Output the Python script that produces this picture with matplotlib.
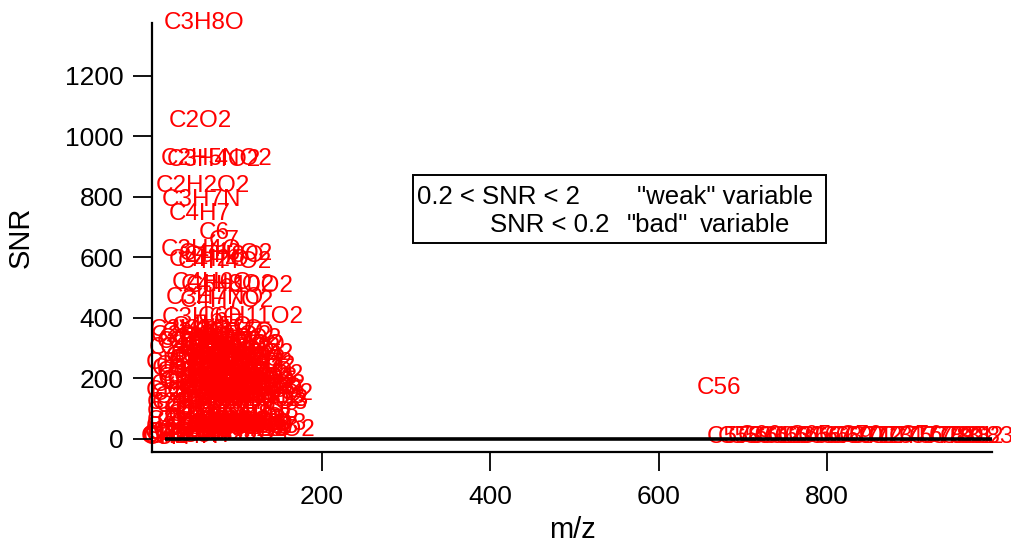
import matplotlib
matplotlib.use("Agg")
import matplotlib.pyplot as plt
from matplotlib.patches import Rectangle

plt.rcParams["font.family"] = ["Liberation Sans", "DejaVu Sans"]

# ── data: formula label, nominal m/z, SNR ──
labels_top = ["C3H8O", "C2O2", "C2H5NO2", "C3H4O2", "C2H2O2", "C3H7N", "C4H7",
              "C6", "C7", "C3H4O", "C4H6O2", "C5H8O", "C4H4O2", "C4H2O",
              "C4H6O", "C4H8O2", "C5H10O2", "C3H7NO", "C4H7O2", "C3H6O", "C6H11O2"]
mz_top = [60, 56, 75, 72, 58, 57, 55,
          72, 84, 56, 86, 84, 84, 66,
          70, 88, 102, 73, 87, 58, 115]
snr_top = [1375, 1051, 925, 922, 835, 790, 745,
           680, 655, 625, 612, 605, 585, 592,
           515, 510, 505, 465, 455, 400, 402]

labels_mid = ["CH3", "CH4", "C2H2", "C2H3", "C2H4", "CHO", "C2H5", "CH2O", "CH3O",
              "CH4O", "C3H2", "C3H3", "C3H4", "C3H5", "C2HO", "C2H2O", "C3H6",
              "C2H3O", "C3H7", "CO2", "C2H4O", "CHO2", "C2H5O", "CH2O2", "C2H6O",
              "C4H2", "C4H3", "C4H4", "C4H5", "C3H2O", "C4H6", "C3H3O", "C4H8",
              "C3H5O", "C4H9", "C2H3O2", "C3H7O", "C2H4O2", "C5H3", "C5H4", "C5H5",
              "C5H6", "C4H3O", "C5H7", "C5H8", "C4H5O", "C5H9", "C3H3O2", "C4H7O",
              "C4H8O", "C3H5O2", "C4H9O", "C3H6O2", "C6H5", "C6H6", "C5H3O", "C6H7",
              "C5H4O", "C5H5O", "C6H9", "C5H6O", "C4H3O2", "C5H7O", "C6H11",
              "C4H5O2", "C5H9O", "C5H10O", "C3H5O3", "C7H7", "C7H8", "C6H5O",
              "C7H9", "C6H6O", "C5H3O2", "C6H7O", "C7H11", "C5H4O2", "C5H5O2",
              "C6H9O", "C5H6O2", "C5H7O2", "C6H11O", "C5H8O2", "C4H5O3", "C5H9O2",
              "C8H7", "C7H5O", "C8H9", "C7H6O", "C7H7O", "C8H11", "C6H5O2", "C7H9O",
              "C6H6O2", "C6H7O2", "C7H11O", "C6H8O2", "C6H9O2", "C5H5O3",
              "C6H10O2", "C5H7O3", "C9H7", "C8H7O", "C9H11", "C8H9O", "C7H5O2",
              "C7H7O2", "C8H11O", "C7H9O2", "C6H5O3", "C7H11O2", "C6H7O3",
              "C10H8", "C6H9O3"]
mz_mid = [15, 16, 26, 27, 28, 29, 29, 30, 31,
          32, 38, 39, 40, 41, 41, 42, 42,
          43, 43, 44, 44, 45, 45, 46, 46,
          50, 51, 52, 53, 54, 54, 55, 56,
          57, 57, 59, 59, 60, 63, 64, 65,
          66, 67, 67, 68, 69, 69, 71, 71,
          72, 73, 73, 74, 77, 78, 79, 79,
          80, 81, 81, 82, 83, 83, 83,
          85, 85, 86, 89, 91, 92, 93,
          93, 94, 95, 95, 95, 96, 97,
          97, 98, 99, 99, 100, 101, 101,
          103, 105, 105, 106, 107, 107, 109, 109,
          110, 111, 111, 112, 113, 113,
          114, 115, 115, 119, 119, 121, 121,
          123, 123, 125, 125, 127, 127,
          128, 129]
snr_mid = [10, 4, 20, 40, 120, 180, 60, 250, 160,
           90, 15, 110, 60, 220, 140, 300, 210,
           360, 330, 270, 340, 200, 150, 230, 120,
           60, 110, 160, 230, 190, 80, 300, 250,
           350, 280, 240, 190, 320, 90, 50, 170,
           130, 260, 200, 220, 370, 300, 200, 330,
           270, 320, 180, 260, 250, 210, 150, 270,
           120, 290, 240, 170, 270, 360, 190,
           340, 280, 200, 140, 320, 150, 270,
           200, 160, 300, 350, 220, 180, 330,
           290, 240, 310, 200, 230, 180, 260,
           150, 280, 210, 170, 260, 190, 250, 310,
           200, 280, 220, 190, 240, 170,
           130, 200, 120, 170, 140, 190, 160,
           210, 170, 180, 140, 150, 120,
           90, 130]

labels_low = ["C", "CH", "CH2", "CO", "C2H6", "CH3O2", "C4H", "C3HO", "C5H2",
              "C3H2O2", "C4H4O", "C5H", "C6H2", "C6H3", "C6H4", "C5H2O", "C4H2O2",
              "C7H3", "C7H5", "C7H6", "C4H6O3", "C8H6", "C8H8", "C4H7O3", "C3H6O4",
              "C7H4O", "C6H4O2", "C8H12", "C6H3O2", "C9H8", "C9H9", "C8H5O",
              "C5H9O3", "C9H10", "C8H6O", "C6H6O3", "C10H7", "C7H12O2"]
mz_low = [12, 13, 14, 28, 30, 47, 49, 53, 62,
          70, 68, 61, 74, 75, 76, 78, 82,
          87, 89, 90, 102, 102, 104, 103, 106,
          104, 108, 108, 107, 116, 117, 117,
          117, 118, 118, 126, 127, 128]
snr_low = [2, 5, 8, 30, 20, 25, 8, 40, 20,
           35, 50, 10, 15, 35, 60, 45, 55,
           20, 70, 45, 60, 40, 80, 30, 20,
           50, 70, 50, 40, 60, 70, 50,
           40, 30, 45, 50, 40, 30]

labels_high = ["C56", "C57", "C58", "C59", "C60", "C61", "C62", "C63", "C64", "C65",
               "C66", "C67", "C68", "C69", "C70", "C71", "C72", "C73", "C74",
               "C75", "C76", "C77", "C78", "C79", "C80", "C81", "C82", "C83"]
mz_high = [672, 684, 696, 708, 720, 732, 744, 756, 768, 780,
           792, 804, 816, 828, 840, 852, 864, 876, 888,
           900, 912, 924, 936, 948, 960, 972, 984, 996]
snr_high = [170, 5, 8, 6, 9, 7, 5, 8, 6, 9,
            7, 6, 8, 5, 9, 7, 6, 8, 7,
            5, 9, 6, 8, 7, 5, 8, 6, 7]

labels = labels_top + labels_mid + labels_low + labels_high
mz = mz_top + mz_mid + mz_low + mz_high
snr = snr_top + snr_mid + snr_low + snr_high

# ── figure ──
fig = plt.figure(figsize=(10.12, 5.42), dpi=100)
ax = fig.add_axes([152 / 1012, 1 - 452 / 542, 840 / 1012, 429 / 542])

for lab, x, y in zip(labels, mz, snr):
    ax.text(x, y, lab, color="#ff0000", fontsize=17.5, ha="center", va="center",
            clip_on=False, zorder=1)

# zero trace across the mass range
ax.plot([min(mz) + 1, max(mz)], [0, 0], color="black", linewidth=2.6, zorder=4,
        solid_capstyle="butt")

ax.set_xlim(-2, 996)
ax.set_ylim(-43, 1375)
ax.set_xticks([200, 400, 600, 800])
ax.set_yticks([0, 200, 400, 600, 800, 1000, 1200])
ax.tick_params(direction="out", length=13.5, width=1.3, labelsize=19, pad=7,
               color="black")
ax.tick_params(axis="x", pad=10)
for side in ("top", "right"):
    ax.spines[side].set_visible(False)
for side in ("left", "bottom"):
    ax.spines[side].set_linewidth(1.6)
    ax.spines[side].set_zorder(5)

ax.set_xlabel("m/z", fontsize=21, labelpad=5)
ax.set_ylabel("SNR", fontsize=21, labelpad=22)

# legend-like annotation box
ax.add_patch(Rectangle((0.3107, 0.4872), 0.4917, 0.1585, transform=ax.transAxes,
                       fill=False, edgecolor="black", linewidth=1.4, clip_on=False,
                       zorder=6))
kw = dict(transform=ax.transAxes, fontsize=18.5, va="center", ha="left", zorder=6)
ax.text(0.316, 0.5944, "0.2 < SNR < 2", **kw)
ax.text(0.5774, 0.5944, "\"weak\" variable", **kw)
ax.text(0.4024, 0.5291, "SNR < 0.2", **kw)
ax.text(0.5655, 0.5291, "\"bad\"", **kw)
ax.text(0.6524, 0.5291, "variable", **kw)

fig.savefig("out.png", dpi=100)
